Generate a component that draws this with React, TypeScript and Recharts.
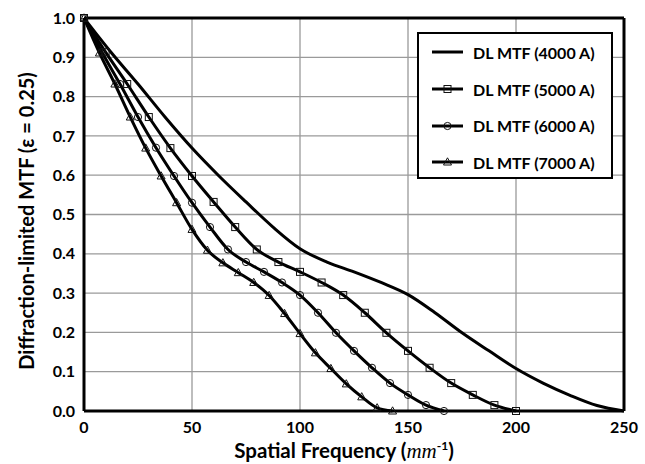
import { LineChart, Line, XAxis, YAxis, CartesianGrid, Legend, ReferenceLine } from "recharts";

// axis ticks
const xTicks = [0, 50, 100, 150, 200, 250];
const yTicks = [0, 0.1, 0.2, 0.3, 0.4, 0.5, 0.6, 0.7, 0.8, 0.9, 1.0];

// DL MTF (4000 A) - line only
const freq4000 = [0, 12.5, 25, 37.5, 50, 62.5, 75, 87.5, 100, 112.5, 125, 137.5, 150, 162.5, 175, 187.5, 200, 212.5, 225, 237.5, 250];
const mtf4000 = [1.0, 0.913, 0.832, 0.748, 0.669, 0.598, 0.532, 0.468, 0.413, 0.379, 0.354, 0.327, 0.296, 0.25, 0.199, 0.153, 0.108, 0.071, 0.04, 0.014, 0.0];

// DL MTF (5000 A) - squares
const freq5000 = [0, 10, 20, 30, 40, 50, 60, 70, 80, 90, 100, 110, 120, 130, 140, 150, 160, 170, 180, 190, 200];
const mtf5000 = [1.0, 0.913, 0.832, 0.748, 0.669, 0.598, 0.532, 0.468, 0.411, 0.379, 0.354, 0.327, 0.295, 0.25, 0.199, 0.153, 0.11, 0.071, 0.041, 0.015, 0.0];

// DL MTF (6000 A) - circles
const freq6000 = [0, 8.33, 16.67, 25, 33.33, 41.67, 50, 58.33, 66.67, 75, 83.33, 91.67, 100, 108.33, 116.67, 125, 133.33, 141.67, 150, 158.33, 166.67];
const mtf6000 = [1.0, 0.913, 0.832, 0.748, 0.67, 0.598, 0.53, 0.468, 0.411, 0.379, 0.354, 0.327, 0.295, 0.25, 0.199, 0.153, 0.11, 0.071, 0.041, 0.015, 0.0];

// DL MTF (7000 A) - triangles
const freq7000 = [0, 7.14, 14.29, 21.43, 28.57, 35.71, 42.86, 50, 57.14, 64.29, 71.43, 78.57, 85.71, 92.86, 100, 107.14, 114.29, 121.43, 128.57, 135.71, 142.86];
const mtf7000 = [1.0, 0.911, 0.832, 0.748, 0.669, 0.598, 0.53, 0.462, 0.409, 0.377, 0.352, 0.327, 0.294, 0.248, 0.197, 0.148, 0.108, 0.069, 0.036, 0.008, 0.0];

const toPoints = (xs: number[], ys: number[]) => xs.map((x, i) => ({ x, y: ys[i] }));

const FONT = "Lato, 'Open Sans', sans-serif";

const SquareDot = (props: any) => {
  const { cx, cy, index } = props;
  if (cx == null || cy == null) return <g key={`sq-${index}`} />;
  return <rect key={`sq-${index}`} x={cx - 3.5} y={cy - 3.5} width={7} height={7} fill="none" stroke="#111" strokeWidth={1} />;
};

const CircleDot = (props: any) => {
  const { cx, cy, index } = props;
  if (cx == null || cy == null) return <g key={`ci-${index}`} />;
  return <circle key={`ci-${index}`} cx={cx} cy={cy} r={3.6} fill="none" stroke="#111" strokeWidth={1} />;
};

const TriangleDot = (props: any) => {
  const { cx, cy, index } = props;
  if (cx == null || cy == null) return <g key={`tr-${index}`} />;
  return (
    <polygon
      key={`tr-${index}`}
      points={`${cx},${cy - 4.2} ${cx + 4},${cy + 3} ${cx - 4},${cy + 3}`}
      fill="none"
      stroke="#111"
      strokeWidth={1}
    />
  );
};

const legendItems = [
  { label: "DL MTF (4000 A)", marker: "none" },
  { label: "DL MTF (5000 A)", marker: "square" },
  { label: "DL MTF (6000 A)", marker: "circle" },
  { label: "DL MTF (7000 A)", marker: "triangle" },
];

const LegendMarker = ({ marker }: { marker: string }) => {
  if (marker === "square") return <rect x={12} y={2.5} width={7} height={7} fill="none" stroke="#111" strokeWidth={1} />;
  if (marker === "circle") return <circle cx={15.5} cy={6} r={3.6} fill="none" stroke="#111" strokeWidth={1} />;
  if (marker === "triangle") return <polygon points="15.5,1.8 19.5,9 11.5,9" fill="none" stroke="#111" strokeWidth={1} />;
  return null;
};

const renderLegend = () => (
  <div
    style={{
      width: 196,
      height: 147,
      boxSizing: "border-box",
      border: "2px solid #000",
      background: "#fff",
      fontFamily: FONT,
      fontWeight: 700,
      fontSize: 16,
      color: "#000",
    }}
  >
    {legendItems.map((item) => (
      <div key={item.label} style={{ height: 36.7, display: "flex", alignItems: "center" }}>
        <svg width={31} height={12} style={{ marginLeft: 13, marginRight: 10 }}>
          <line x1={0} y1={6} x2={31} y2={6} stroke="#000" strokeWidth={3} />
          <LegendMarker marker={item.marker} />
        </svg>
        <span>{item.label}</span>
      </div>
    ))}
  </div>
);

const XTitle = () => (
  <text x={344} y={458} textAnchor="middle" fontFamily={FONT} fontWeight={700} fontSize={20.5} fill="#000">
    Spatial Frequency (
    <tspan fontFamily="'Liberation Serif', serif" fontStyle="italic" fontWeight={400} fontSize={21}>mm</tspan>
    <tspan dy={-8} fontSize={12}>-1</tspan>
    <tspan dy={8}>)</tspan>
  </text>
);

const YTitle = () => (
  <text
    x={34}
    y={221}
    transform="rotate(-90, 34, 221)"
    textAnchor="middle"
    fontFamily={FONT}
    fontWeight={700}
    fontSize={20}
    fill="#000"
  >
    Diffraction-limited MTF (ε = 0.25)
  </text>
);

export default function App() {
  const tickStyle = { fill: "#000", fontSize: 16, fontWeight: 700, fontFamily: FONT };
  return (
    <div style={{ position: "absolute", left: 0, top: 0, width: 645, height: 464, background: "#fff" }}>
      <LineChart width={645} height={464} margin={{ top: 18, right: 21, bottom: 0, left: 0 }}>
        <CartesianGrid stroke="#9a9a9a" strokeWidth={1.3} />
        <XAxis
          type="number"
          dataKey="x"
          domain={[0, 250]}
          ticks={xTicks}
          height={53}
          tickLine={false}
          tickSize={6}
          tickMargin={5}
          axisLine={{ stroke: "#000", strokeWidth: 3 }}
          tick={tickStyle}
          allowDuplicatedCategory={false}
          label={{ content: () => <XTitle /> }}
        />
        <YAxis
          type="number"
          domain={[0, 1]}
          ticks={yTicks}
          width={84}
          tickLine={false}
          tickSize={6}
          tickMargin={3}
          axisLine={{ stroke: "#000", strokeWidth: 3 }}
          tick={tickStyle}
          tickFormatter={(v: number) => v.toFixed(1)}
          label={{ content: () => <YTitle /> }}
        />
        <ReferenceLine y={1} stroke="#000" strokeWidth={3} />
        <ReferenceLine x={250} stroke="#000" strokeWidth={3} />
        <Legend
          layout="vertical"
          align="center"
          verticalAlign="middle"
          content={renderLegend}
          wrapperStyle={{ left: 417, top: 32, width: 196, height: 147 }}
        />
        <Line
          data={toPoints(freq4000, mtf4000)}
          dataKey="y"
          type="monotone"
          stroke="#000"
          strokeWidth={3}
          dot={false}
          activeDot={false}
          isAnimationActive={false}
        />
        <Line
          data={toPoints(freq5000, mtf5000)}
          dataKey="y"
          type="monotone"
          stroke="#000"
          strokeWidth={3}
          dot={SquareDot}
          activeDot={false}
          isAnimationActive={false}
        />
        <Line
          data={toPoints(freq6000, mtf6000)}
          dataKey="y"
          type="monotone"
          stroke="#000"
          strokeWidth={3}
          dot={CircleDot}
          activeDot={false}
          isAnimationActive={false}
        />
        <Line
          data={toPoints(freq7000, mtf7000)}
          dataKey="y"
          type="monotone"
          stroke="#000"
          strokeWidth={3}
          dot={TriangleDot}
          activeDot={false}
          isAnimationActive={false}
        />
      </LineChart>
    </div>
  );
}
